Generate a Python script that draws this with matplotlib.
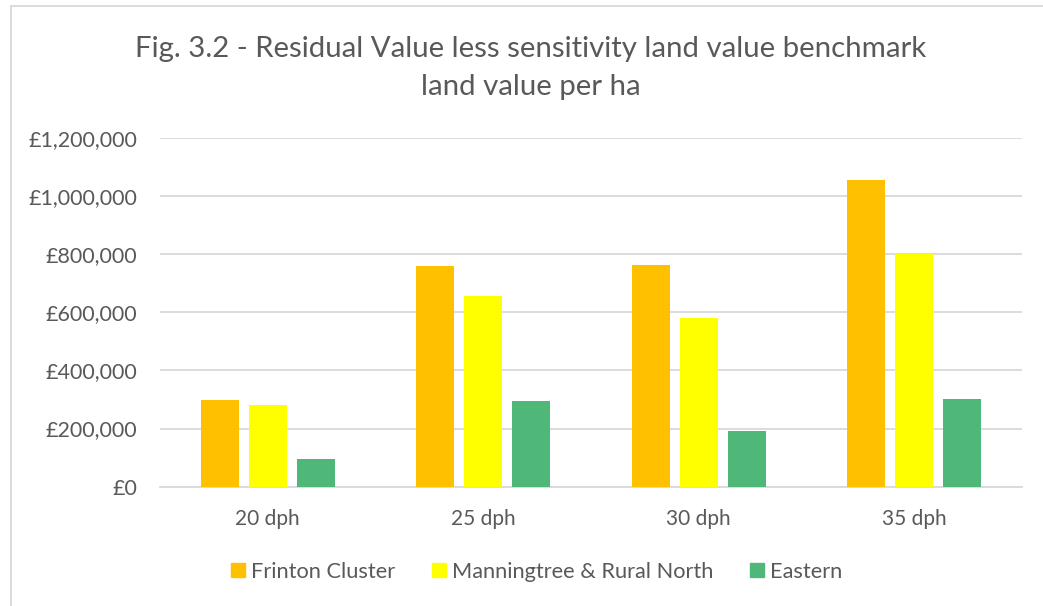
import matplotlib.pyplot as plt
import numpy as np
from matplotlib.lines import Line2D
from matplotlib.ticker import FuncFormatter

categories = ["20 dph", "25 dph", "30 dph", "35 dph"]
series_names = ["Frinton Cluster", "Manningtree & Rural North", "Eastern"]
frinton = [298000, 758000, 761000, 1053000]
manningtree = [281000, 654000, 581000, 800000]
eastern = [95000, 294000, 190000, 300000]

title_lines = ["Fig. 3.2 - Residual Value less sensitivity land value benchmark",
               "land value per ha"]

colors = ["#FFC000", "#FFFF00", "#4FB878"]
text_col = "#595959"
grid_col = "#D9D9D9"
plt.rcParams["font.family"] = ["Lato", "DejaVu Sans"]

W, H = 1043, 606
fig = plt.figure(figsize=(W / 100, H / 100), dpi=100)
renderer = fig.canvas.get_renderer()


def fit_size(text, target_px, size=10):
    # font size (pt) that makes `text` about target_px wide
    t = fig.text(0, 0, text, fontsize=size)
    w = t.get_window_extent(renderer).width
    t.remove()
    return size * target_px / w


title_fs = fit_size(title_lines[0], 790)
ytick_fs = fit_size("£1,200,000", 109)
xtick_fs = fit_size("20 dph", 65)
legend_fs = fit_size("Frinton Cluster", 144)

ax = fig.add_axes([160 / W, 1 - 486.7 / H, 862 / W, (486.7 - 137.7) / H])

x = np.arange(len(categories))
step = 0.2225
for i, (vals, name) in enumerate(zip([frinton, manningtree, eastern], series_names)):
    ax.bar(x + (i - 1) * step, vals, width=0.175, color=colors[i], label=name, zorder=3)

ax.set_xlim(-0.5, 3.5)
ax.set_ylim(0, 1200000)
ax.set_yticks(np.arange(0, 1200001, 200000))
ax.yaxis.set_major_formatter(FuncFormatter(lambda v, p: "£{:,.0f}".format(v)))
ax.set_xticks(x)
ax.set_xticklabels(categories)
ax.grid(axis="y", color=grid_col, linewidth=1.3, zorder=0)
for s in ["top", "right", "left"]:
    ax.spines[s].set_visible(False)
ax.spines["bottom"].set_color(grid_col)
ax.spines["bottom"].set_linewidth(1.3)
ax.tick_params(axis="both", length=0, colors=text_col)
ax.tick_params(axis="y", labelsize=ytick_fs, pad=23 * 0.72)
ax.tick_params(axis="x", labelsize=xtick_fs, pad=38.3 * 0.72)
for lbl in ax.get_xticklabels():
    lbl.set_va("baseline")

fig.text(531 / W, 1 - 56.7 / H, title_lines[0], ha="center", va="baseline",
         fontsize=title_fs, color=text_col)
fig.text(531 / W, 1 - 95 / H, title_lines[1], ha="center", va="baseline",
         fontsize=title_fs, color=text_col)

fs_px = legend_fs / 0.72
handles = [Line2D([], [], marker="s", linestyle="none", markersize=10,
                  markerfacecolor=c, markeredgecolor=c) for c in colors]
fig.legend(handles, series_names, loc="center", bbox_to_anchor=(536.5 / W, 1 - 572 / H),
           ncol=3, frameon=False, fontsize=legend_fs, labelcolor=text_col,
           handlelength=14 / fs_px, handletextpad=6 / fs_px, columnspacing=37 / fs_px,
           borderpad=0, borderaxespad=0)

# chart frame edges visible in the screenshot
fig.add_artist(Line2D([11 / W, 11 / W], [0, 1 - 6 / H], transform=fig.transFigure,
                      color=grid_col, linewidth=1.3))
fig.add_artist(Line2D([11 / W, 1], [1 - 6 / H, 1 - 6 / H], transform=fig.transFigure,
                      color=grid_col, linewidth=1.3))

fig.savefig("out.png", dpi=100)
